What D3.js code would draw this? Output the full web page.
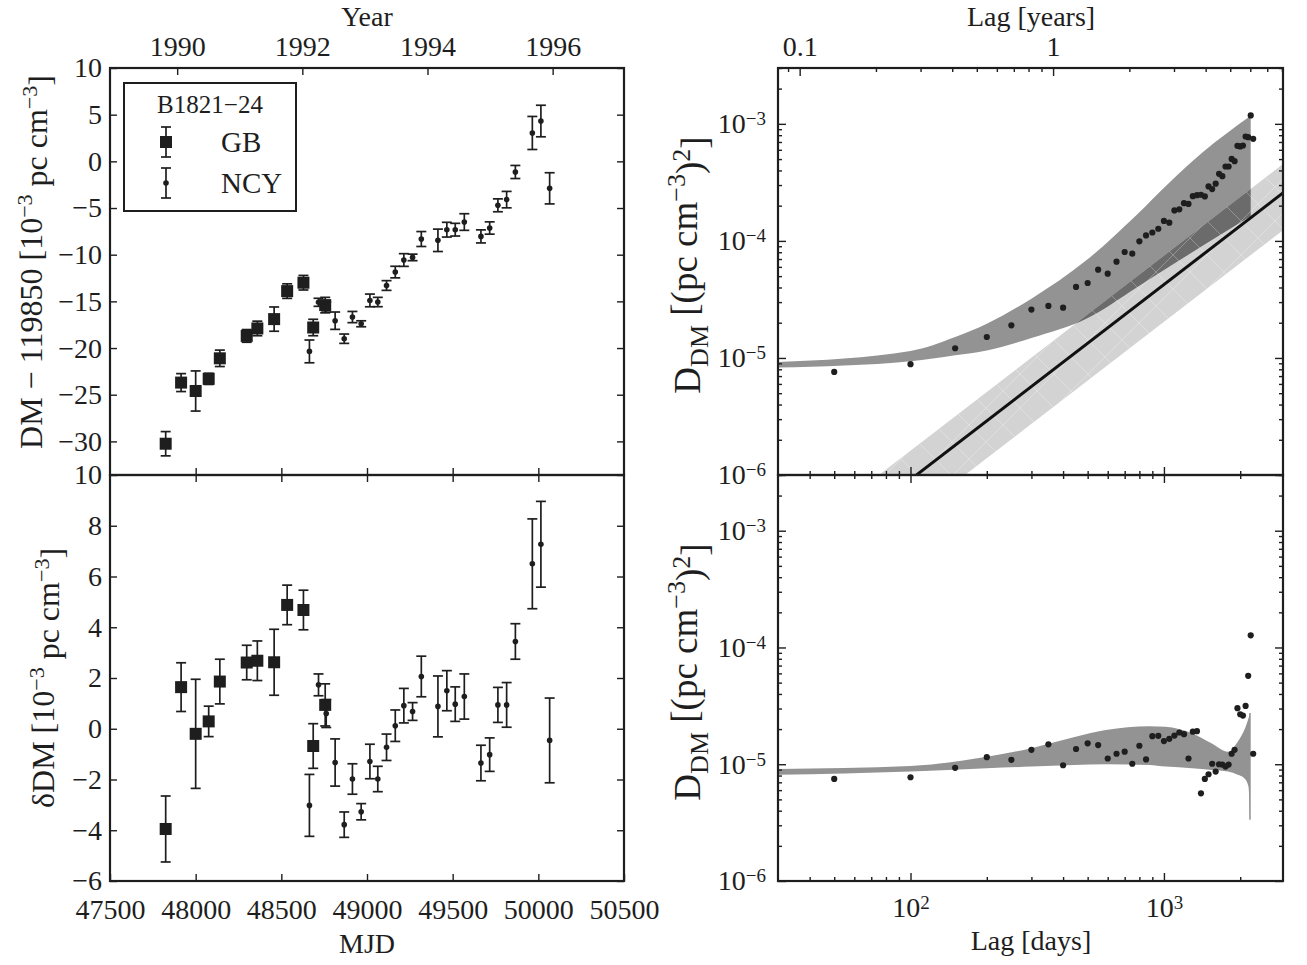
<!DOCTYPE html>
<html>
<head>
<meta charset="utf-8">
<script src="https://cdn.jsdelivr.net/npm/d3@7"></script>
<style>
body { margin: 0; background: #fff; }
text { font-family: "Liberation Serif", "DejaVu Serif", serif; fill: #1e1e1e; }
.ax text { font-size: 28px; font-family: "Liberation Serif", serif; }
</style>
</head>
<body>
<svg id="chart" width="1307" height="965"></svg>
<script>
// ---- data: GB and NCY timing DMs (left panels)
const gbMJD = [47825, 47915, 48000, 48076, 48141, 48298, 48360, 48458, 48534, 48629, 48686, 48756]
const gbDM = [-30.25, -23.7, -24.6, -23.3, -21.1, -18.7, -17.9, -16.9, -13.9, -13.0, -17.8, -15.4]
const gbRes = [-3.95, 1.64, -0.2, 0.29, 1.86, 2.61, 2.68, 2.62, 4.88, 4.68, -0.68, 0.94]
const gbErr = [1.3, 0.96, 2.15, 0.6, 0.88, 0.68, 0.78, 1.3, 0.78, 0.78, 0.88, 0.83]

const ncyMJD = [48664, 48717, 48762, 48814, 48867, 48915, 48966, 49017, 49063, 49114, 49165, 49215, 49266,
                49317, 49414, 49466, 49515, 49568, 49665, 49716, 49764, 49815, 49866, 49965, 50015, 50066]
const ncyDM = [-20.36, -15.1, -15.6, -17.07, -19.0, -16.68, -17.4, -14.9, -15.07, -13.3, -11.86, -10.57, -10.29,
               -8.32, -8.46, -7.32, -7.32, -6.5, -8.04, -7.14, -4.71, -4.1, -1.14, 3.04, 4.32, -2.89]
const ncyRes = [-3.02, 1.73, 0.6, -1.33, -3.78, -1.98, -3.27, -1.29, -1.98, -0.73, 0.12, 0.91, 0.68,
                2.06, 0.88, 1.5, 0.97, 1.27, -1.35, -1.02, 0.94, 0.94, 3.44, 6.5, 7.27, -0.46]
const ncyErr = [1.22, 0.43, 0.55, 0.93, 0.5, 0.6, 0.32, 0.68, 0.5, 0.52, 0.62, 0.68, 0.35,
                0.8, 1.2, 0.79, 0.68, 0.89, 0.7, 0.66, 0.69, 0.88, 0.7, 1.77, 1.69, 1.67]

// ---- data: structure functions (right panels)
const lagDays = [50, 100, 150, 200, 250, 300, 350, 400, 450, 500, 550, 600, 650, 700, 750, 800, 850, 900, 950, 1000,
                 1050, 1100, 1150, 1200, 1250, 1300, 1350, 1400, 1450, 1500, 1550, 1600, 1650, 1700, 1750, 1800,
                 1850, 1900, 1950, 2000, 2050, 2100, 2150, 2200, 2250]
const sfRaw = [7.6e-6, 8.85e-6, 1.21e-5, 1.51e-5, 1.9e-5, 2.59e-5, 2.78e-5, 2.69e-5, 4.04e-5, 4.37e-5, 5.68e-5,
               5.25e-5, 6.65e-5, 8.04e-5, 7.78e-5, 9.91e-5, 1.114e-4, 1.18e-4, 1.27e-4, 1.48e-4, 1.43e-4, 1.82e-4,
               1.86e-4, 2.1e-4, 2.07e-4, 2.41e-4, 2.46e-4, 2.48e-4, 2.4e-4, 2.92e-4, 2.77e-4, 3.08e-4, 3.74e-4,
               3.57e-4, 4.32e-4, 4.32e-4, 5.02e-4, 4.8e-4, 6.49e-4, 6.41e-4, 6.53e-4, 7.8e-4, 7.69e-4, 1.18e-3, 7.45e-4]
const sfRes = [7.48e-6, 7.74e-6, 9.31e-6, 1.15e-5, 1.09e-5, 1.33e-5, 1.48e-5, 9.8e-6, 1.35e-5, 1.51e-5, 1.46e-5,
               1.12e-5, 1.23e-5, 1.28e-5, 1.01e-5, 1.44e-5, 1.1e-5, 1.74e-5, 1.75e-5, 1.58e-5, 1.65e-5, 1.76e-5,
               1.87e-5, 1.81e-5, 1.12e-5, 1.9e-5, 1.92e-5, 5.64e-6, 7.48e-6, 8.21e-6, 1.01e-5, 8.65e-6, 1.0e-5,
               9.93e-6, 9.55e-6, 9.93e-6, 1.23e-5, 1.33e-5, 3.02e-5, 2.68e-5, 2.61e-5, 3.16e-5, 5.72e-5, 1.27e-4, 1.23e-5]

// model envelope, raw DMs
const bandRawLag = [30, 100, 150, 200, 300, 494, 778, 1052, 1426, 2200]
const bandRawHi = [9.25e-6, 1.148e-5, 1.51e-5, 1.96e-5, 3.21e-5, 6.82e-5, 1.66e-4, 3.16e-4, 5.75e-4, 1.175e-3]
const bandRawLo = [8.28e-6, 9.38e-6, 1.054e-5, 1.16e-5, 1.48e-5, 2.16e-5, 3.98e-5, 6.03e-5, 9.12e-5, 1.62e-4]
// model envelope, residual DMs
const bandResLag = [30, 100, 200, 300, 440, 590, 875, 1015, 1290, 1540, 1790, 1955, 2075, 2155, 2185]
const bandResHi = [9.12e-6, 9.66e-6, 1.16e-5, 1.37e-5, 1.7e-5, 1.96e-5, 2.12e-5, 2.09e-5, 1.84e-5, 1.51e-5,
                   1.28e-5, 1.56e-5, 1.96e-5, 2.47e-5, 2.75e-5]
const bandResLo = [8.11e-6, 8.65e-6, 9.25e-6, 9.55e-6, 9.86e-6, 1.0e-5, 9.86e-6, 9.55e-6, 9.25e-6, 8.93e-6,
                   8.65e-6, 8.11e-6, 7.59e-6, 6.46e-6, 3.35e-6]
// Kolmogorov tau^(5/3) line and its range
const kolLag = [30, 3000]
const kolMid = [1.23e-7, 2.64e-4]
const kolHi = [2.17e-7, 4.66e-4]
const kolLo = [5.9e-8, 1.27e-4]

// ---- ticks
const mjdTicks = [47500, 48000, 48500, 49000, 49500, 50000, 50500]
const yearTicks = [1990, 1992, 1994, 1996]
const dmTicks = [-30, -25, -20, -15, -10, -5, 0, 5, 10]
const resTicks = [-6, -4, -2, 0, 2, 4, 6, 8, 10]
const lagMajor = [100, 1000]
const yearMajor = [0.1, 1]
const dMajor = [1e-6, 1e-5, 1e-4, 1e-3]

const INK = '#1e1e1e'
const LX0 = 110, LX1 = 624, RX0 = 778, RX1 = 1283
const Y0 = 68, YM = 475, Y1 = 881

const svg = d3.select('#chart')
const defs = svg.append('defs')

const mjdToYear = m => 1990 + (m - 47892) / 365.25

const xMJD = d3.scaleLinear().domain([47500, 50500]).range([LX0, LX1])
const xYear = d3.scaleLinear().domain([mjdToYear(47500), mjdToYear(50500)]).range([LX0, LX1])
const yDM = d3.scaleLinear().domain([-33.6, 10]).range([YM, Y0])
const yRes = d3.scaleLinear().domain([-6, 10]).range([Y1, YM])

const xLag = d3.scaleLog().domain([30, 2950]).range([RX0, RX1])
const xLagYr = d3.scaleLog().domain([30 / 365.25, 2950 / 365.25]).range([RX0, RX1])
const yTop = d3.scaleLog().domain([1e-6, 3e-3]).range([YM, Y0])
const yBot = d3.scaleLog().domain([1e-6, 3e-3]).range([Y1, YM])

// ---- helpers
const axis = (gen, tx, ty, size, vals, fmt, pad) => {
    const g = svg.append('g').attr('class', 'ax').attr('transform', `translate(${tx},${ty})`)
        .attr('color', INK)
        .call(gen.tickValues(vals).tickSize(-size).tickPadding(pad || 3).tickFormat(fmt || ''))
    g.select('.domain').remove()
    g.selectAll('line').attr('stroke-width', 1.4)
    return g
}

const power = (sel, exp) => {
    sel.each(function(d) {
        const t = d3.select(this)
        const e = exp(d)
        t.text('10')
        t.append('tspan').attr('dy', '-0.42em').attr('font-size', '19px').text(e)
    })
}

const minors = (scale, majors) => scale.ticks().filter(v => !majors.some(m => Math.abs(m - v) / v < 1e-6))

const errorBars = (xs, ys, es, xs_, ys_, cap) => {
    const rows = xs.map((v, i) => ({ x: v, y: ys[i], e: es[i] }))
    const g = svg.append('g').attr('stroke', INK).attr('stroke-width', 1.7)
    g.selectAll(null).data(rows).enter().append('line')
        .attr('x1', d => xs_(d.x)).attr('x2', d => xs_(d.x))
        .attr('y1', d => ys_(d.y - d.e)).attr('y2', d => ys_(d.y + d.e))
    ;[-1, 1].forEach(s => {
        g.selectAll(null).data(rows).enter().append('line')
            .attr('x1', d => xs_(d.x) - cap).attr('x2', d => xs_(d.x) + cap)
            .attr('y1', d => ys_(d.y + s * d.e)).attr('y2', d => ys_(d.y + s * d.e))
    })
}

const squares = (xs, ys, xs_, ys_) => {
    svg.append('g').selectAll(null).data(xs.map((v, i) => [v, ys[i]])).enter().append('rect')
        .attr('x', d => xs_(d[0]) - 6).attr('y', d => ys_(d[1]) - 6)
        .attr('width', 12).attr('height', 12).attr('fill', INK)
}

const dots = (xs, ys, xs_, ys_, r) => {
    svg.append('g').selectAll(null).data(xs.map((v, i) => [v, ys[i]])).enter().append('circle')
        .attr('cx', d => xs_(d[0])).attr('cy', d => ys_(d[1])).attr('r', r).attr('fill', INK)
}

const frame = (x0, y0, x1, y1) => {
    svg.append('rect').attr('x', x0).attr('y', y0).attr('width', x1 - x0).attr('height', y1 - y0)
        .attr('fill', 'none').attr('stroke', INK).attr('stroke-width', 2.2)
}

// ---- left top: DM vs MJD
errorBars(gbMJD, gbDM, gbErr, xMJD, yDM, 5)
squares(gbMJD, gbDM, xMJD, yDM)
errorBars(ncyMJD, ncyDM, ncyErr, xMJD, yDM, 5)
dots(ncyMJD, ncyDM, xMJD, yDM, 2.8)

// ---- left bottom: residual DM
errorBars(gbMJD, gbRes, gbErr, xMJD, yRes, 5)
squares(gbMJD, gbRes, xMJD, yRes)
errorBars(ncyMJD, ncyRes, ncyErr, xMJD, yRes, 5)
dots(ncyMJD, ncyRes, xMJD, yRes, 2.8)

// left axes
axis(d3.axisLeft(yDM), LX0, 0, 7, dmTicks, d3.format('d'), 8)
axis(d3.axisRight(yDM), LX1, 0, 7, dmTicks)
axis(d3.axisLeft(yRes), LX0, 0, 7, resTicks, d3.format('d'), 8)
axis(d3.axisRight(yRes), LX1, 0, 7, resTicks)
axis(d3.axisTop(xYear), 0, Y0, 7, yearTicks, d3.format('d'), 12)
axis(d3.axisBottom(xMJD), 0, YM, 7, mjdTicks.slice(1, -1))
axis(d3.axisTop(xMJD), 0, YM, 7, mjdTicks.slice(1, -1))
axis(d3.axisBottom(xMJD), 0, Y1, 7, mjdTicks, d3.format('d'), 18)
frame(LX0, Y0, LX1, YM)
frame(LX0, YM, LX1, Y1)

// legend
const leg = svg.append('g')
leg.append('rect').attr('x', 124).attr('y', 83).attr('width', 172).attr('height', 128)
    .attr('fill', '#fff').attr('stroke', INK).attr('stroke-width', 2)
leg.append('text').attr('x', 210).attr('y', 113).attr('text-anchor', 'middle').attr('font-size', 25).text('B1821\u221224')
const legRow = (y, label, isSquare) => {
    leg.append('line').attr('x1', 166).attr('x2', 166).attr('y1', y - 15).attr('y2', y + 15)
        .attr('stroke', INK).attr('stroke-width', 1.7)
    ;[-15, 15].forEach(o => leg.append('line').attr('x1', 161).attr('x2', 171).attr('y1', y + o).attr('y2', y + o)
        .attr('stroke', INK).attr('stroke-width', 1.7))
    if (isSquare) leg.append('rect').attr('x', 160).attr('y', y - 6).attr('width', 12).attr('height', 12).attr('fill', INK)
    else leg.append('circle').attr('cx', 166).attr('cy', y).attr('r', 2.8).attr('fill', INK)
    leg.append('text').attr('x', 221).attr('y', y + 10).attr('font-size', 29).text(label)
}
legRow(142, 'GB', true)
legRow(183, 'NCY', false)

// ---- right panels
const clipTop = defs.append('clipPath').attr('id', 'clipTop')
clipTop.append('rect').attr('x', RX0).attr('y', Y0).attr('width', RX1 - RX0).attr('height', YM - Y0)
const clipBot = defs.append('clipPath').attr('id', 'clipBot')
clipBot.append('rect').attr('x', RX0).attr('y', YM).attr('width', RX1 - RX0).attr('height', Y1 - YM)

const hatch = defs.append('pattern').attr('id', 'hatch').attr('patternUnits', 'userSpaceOnUse')
    .attr('width', 34).attr('height', 34)
hatch.append('path').attr('d', 'M0,0L34,34M34,0L0,34').attr('stroke', '#fff').attr('stroke-opacity', 0.3)
    .attr('stroke-width', 0.9).attr('fill', 'none')

const bandArea = (lags, lo, hi, ys) => d3.area()
    .x((d, i) => xLag(lags[i])).y0((d, i) => ys(lo[i])).y1((d, i) => ys(hi[i]))
    .curve(d3.curveMonotoneX)(lags)

const gTop = svg.append('g').attr('clip-path', 'url(#clipTop)')
const rawBand = bandArea(bandRawLag, bandRawLo, bandRawHi, yTop)
const kolBand = bandArea(kolLag, kolLo, kolHi, yTop)
defs.append('clipPath').attr('id', 'clipKol').append('path').attr('d', kolBand)

gTop.append('path').attr('d', rawBand).attr('fill', '#939393')
gTop.append('path').attr('d', kolBand).attr('fill', '#d3d3d3')
gTop.append('path').attr('d', rawBand).attr('fill', '#6b6b6b').attr('clip-path', 'url(#clipKol)')
gTop.append('path').attr('d', kolBand).attr('fill', 'url(#hatch)')
gTop.append('path')
    .attr('d', d3.line().x((d, i) => xLag(kolLag[i])).y((d, i) => yTop(kolMid[i]))(kolLag))
    .attr('stroke', '#111').attr('stroke-width', 3).attr('fill', 'none')
dots(lagDays, sfRaw, xLag, yTop, 3.1)

const gBot = svg.append('g').attr('clip-path', 'url(#clipBot)')
gBot.append('path').attr('d', bandArea(bandResLag, bandResLo, bandResHi, yBot)).attr('fill', '#939393')
gBot.append('line').attr('x1', xLag(2185)).attr('x2', xLag(2185))
    .attr('y1', yBot(bandResHi[bandResHi.length - 1])).attr('y2', yBot(bandResLo[bandResLo.length - 1]))
    .attr('stroke', '#939393').attr('stroke-width', 1.5)
dots(lagDays, sfRes, xLag, yBot, 3.1)

// right axes
const dMinor = minors(yTop, dMajor)
const lagMinor = minors(xLag, lagMajor).filter(v => v > 30.5 && v < 2949)
const yrMinor = minors(xLagYr, yearMajor)
;[yTop, yBot].forEach(ys => {
    axis(d3.axisLeft(ys), RX0, 0, 8, dMajor, d => d, 12).selectAll('text').call(power, d => '\u2212' + Math.round(-Math.log10(d)))
    axis(d3.axisLeft(ys), RX0, 0, 4, dMinor)
    axis(d3.axisRight(ys), RX1, 0, 8, dMajor)
    axis(d3.axisRight(ys), RX1, 0, 4, dMinor)
})
axis(d3.axisTop(xLagYr), 0, Y0, 8, yearMajor, d3.format('~g'), 12)
axis(d3.axisTop(xLagYr), 0, Y0, 4, yrMinor)
axis(d3.axisBottom(xLag), 0, YM, 8, lagMajor)
axis(d3.axisBottom(xLag), 0, YM, 4, lagMinor)
axis(d3.axisTop(xLag), 0, YM, 8, lagMajor)
axis(d3.axisTop(xLag), 0, YM, 4, lagMinor)
axis(d3.axisBottom(xLag), 0, Y1, 8, lagMajor, d => d, 16).selectAll('text').call(power, d => String(Math.round(Math.log10(d))))
axis(d3.axisBottom(xLag), 0, Y1, 4, lagMinor)
frame(RX0, Y0, RX1, YM)
frame(RX0, YM, RX1, Y1)

// ---- axis titles
const title = (x, y, rot, fs) => svg.append('text').attr('text-anchor', 'middle').attr('font-size', fs || 28)
    .attr('transform', `translate(${x},${y})` + (rot ? ' rotate(-90)' : ''))
const sup = (t, s, fs) => { t.append('tspan').attr('dy', '-0.45em').attr('font-size', fs).text(s); }
const back = (t, s, dy) => t.append('tspan').attr('dy', dy).text(s)

title(367, 26).text('Year')
title(367, 953).text('MJD')
title(1031, 26).text('Lag [years]')
title(1031, 950).text('Lag [days]')

let t = title(42, 262, true, 32)
t.append('tspan').text('DM \u2212 119850 [10'); sup(t, '\u22123', 22); back(t, ' pc cm', '0.45em'); sup(t, '\u22123', 22); back(t, ']', '0.45em')

t = title(54, 678, true, 32)
t.append('tspan').text('\u03b4DM [10'); sup(t, '\u22123', 22); back(t, ' pc cm', '0.45em'); sup(t, '\u22123', 22); back(t, ']', '0.45em')

;[265, 672].forEach(cy => {
    const tt = title(700, cy, true, 37)
    tt.append('tspan').text('D')
    tt.append('tspan').attr('dy', '0.3em').attr('font-size', 26).text('DM')
    back(tt, ' [(pc cm', '-0.3em'); sup(tt, '\u22123', 26); back(tt, ')', '0.45em'); sup(tt, '2', 26); back(tt, ']', '0.45em')
})
</script>
</body>
</html>
